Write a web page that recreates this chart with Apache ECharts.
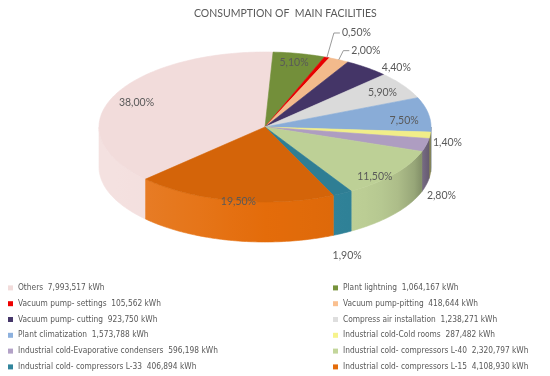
<!DOCTYPE html>
<html><head><meta charset="utf-8">
<script src="https://cdn.jsdelivr.net/npm/echarts@6/dist/echarts.min.js"></script>
<style>html,body{margin:0;padding:0;background:#fff}#c{width:550px;height:376px}</style>
</head><body><div id="c"></div>
<script>
const categories = ['Others','Plant lightning','Vacuum pump- settings','Vacuum pump-pitting','Vacuum pump- cutting','Compress air installation','Plant climatization','Industrial cold-Cold rooms','Industrial cold-Evaporative condensers','Industrial cold- compressors L-40','Industrial cold- compressors L-33','Industrial cold- compressors L-15'];
const values = [7993517,1064167,105562,418644,923750,1238271,1573788,287482,596198,2320797,406894,4108930];
const percentLabels = ['38,00%','5,10%','0,50%','2,00%','4,40%','5,90%','7,50%','1,40%','2,80%','11,50%','1,90%','19,50%'];

// styles
const colors = ['#F2DCDB','#77933C','#EE0000','#FAC090','#46376A','#DEDEDE','#8DB1DE','#F6F38C','#B3A2C7','#C3D69B','#31859C','#E46C0A'];
const topFactor = [1,0.97,0.97,0.97,0.97,0.98,0.97,0.98,0.97,0.97,0.95,0.93];
const firstSliceAngle = 226;
const labelNudge = [[0,0],[0,0],[4,-17],[1,-2],[10,6],[0,0],[0,0],[-5,2],[-7,39],[0,0],[1,20],[0,0]];
const leader = [false,false,true,true,false,false,false,false,false,false,false,false];
const G = {cx:265, cy:127, rx:166, ry:75, depth:40};
const legendFont = "'Liberation Sans Narrow', 'DejaVu Sans Condensed', Lato";

const total = values.reduce((a,b)=>a+b,0);
const starts = [], ends = [];
let acc = 0;
values.forEach(v => { starts.push(firstSliceAngle + acc/total*360); acc += v; ends.push(firstSliceAngle + acc/total*360); });

function pt(deg, r, dy){ const t = deg*Math.PI/180; return [G.cx + G.rx*r*Math.sin(t), G.cy - G.ry*r*Math.cos(t) + (dy||0)]; }
function arc(a, b, r, dy){ const n = Math.max(2, Math.ceil(b-a)); const p = []; for (let k=0;k<=n;k++) p.push(pt(a+(b-a)*k/n, r, dy)); return p; }
function rgb(h){ return [parseInt(h.slice(1,3),16),parseInt(h.slice(3,5),16),parseInt(h.slice(5,7),16)]; }
function shade(h, f){
  const c = rgb(h).map(x => f<=1 ? x*f : x + (255-x)*(f-1)*2.5);
  return 'rgb(' + c.map(x => Math.max(0,Math.min(255,Math.round(x)))).join(',') + ')';
}
function wallFill(h){
  const stops = [];
  for (let k=0;k<=20;k++){ const t=k/20, s=2*t-1; const f = 1 - 0.06*s - 0.4*Math.pow(Math.max(0,s),8); stops.push({offset:t, color:shade(h,f)}); }
  return {type:'linear', x:G.cx-G.rx, y:0, x2:G.cx+G.rx, y2:0, global:true, colorStops:stops};
}

function renderWall(params){
  const i = params.dataIndex, a = starts[i], b = ends[i];
  const children = [];
  [[90,270],[450,630]].forEach(([lo,hi]) => {
    const s = Math.max(a,lo), e = Math.min(b,hi);
    if (e > s) {
      const top = arc(s,e,1,0), bot = arc(s,e,1,G.depth).reverse();
      const fill = wallFill(colors[i]);
      children.push({type:'polygon', shape:{points:top.concat(bot)}, style:{fill:fill, stroke:fill, lineWidth:0.6}});
    }
  });
  return {type:'group', children};
}
function renderTop(params){
  const i = params.dataIndex;
  const c = shade(colors[i], topFactor[i]);
  const pts = [[G.cx,G.cy]].concat(arc(starts[i], ends[i], 1, 0));
  return {type:'polygon', shape:{points:pts}, style:{fill:c, stroke:c, lineWidth:0.6}};
}
function renderLabel(params){
  const i = params.dataIndex;
  const mid = (starts[i]+ends[i])/2, t = mid*Math.PI/180, s = Math.sin(t), c = Math.cos(t);
  const pct = values[i]/total*100;
  const base = {text:percentLabels[i], fill:'#595959', fontSize:10.5, fontFamily:'Lato', verticalAlign:'middle'};
  const children = [];
  if (pct >= 5) {
    children.push({type:'text', x:G.cx + G.rx*0.85*s, y:G.cy - G.ry*0.84*c + 8*(1-c) - 3, style:Object.assign({}, base, {align:'center'})});
  } else {
    const ex = G.cx + (G.rx+8)*s, ey = G.cy - (G.ry+8)*c + (c<0 ? G.depth*(-c) : 0);
    const ax = ex + labelNudge[i][0], ay = ey + labelNudge[i][1];
    if (leader[i]) {
      const e = pt(mid,1,0);
      children.push({type:'polyline', shape:{points:[e,[ax,ay],[ax+6,ay]]}, style:{stroke:'#808080', lineWidth:0.8, fill:null}});
      children.push({type:'text', x:ax+8, y:ay, style:Object.assign({}, base, {align:'left'})});
    } else {
      const align = s>0.6 ? 'left' : (s<-0.6 ? 'right' : 'center');
      children.push({type:'text', x:ax, y:ay, style:Object.assign({}, base, {align})});
    }
  }
  return {type:'group', children};
}

const legendCommon = {
  orient:'vertical', top:282, padding:0, height:100, icon:'rect', itemWidth:5, itemHeight:5, itemGap:4, selectedMode:false,
  textStyle:{fontSize:8.3, fontFamily:legendFont, color:'#595959', lineHeight:11.8},
  formatter: name => name + '  ' + values[categories.indexOf(name)].toLocaleString('en-US') + ' kWh'
};

const chart = echarts.init(document.getElementById('c'), null, {renderer:'canvas'});
chart.setOption({
  animation:false,
  title:{text:'CONSUMPTION OF  MAIN FACILITIES', left:189, top:3, textStyle:{fontSize:10.5, fontWeight:'normal', fontFamily:'Lato', color:'#595959'}},
  legend:[
    Object.assign({left:8, data:[0,2,4,6,8,10].map(i=>categories[i])}, legendCommon),
    Object.assign({left:333, data:[1,3,5,7,9,11].map(i=>categories[i])}, legendCommon)
  ],
  series:[
    {type:'pie', radius:[0,0], center:[-50,-50], silent:true, label:{show:false}, labelLine:{show:false},
     data:categories.map((n,i)=>({name:n, value:values[i], itemStyle:{color:colors[i]}}))},
    {type:'custom', coordinateSystem:'none', z:2, silent:true, renderItem:renderWall, data:values},
    {type:'custom', coordinateSystem:'none', z:3, silent:true, renderItem:renderTop, data:values},
    {type:'custom', coordinateSystem:'none', z:4, silent:true, renderItem:renderLabel, data:values}
  ]
});
</script></body></html>
